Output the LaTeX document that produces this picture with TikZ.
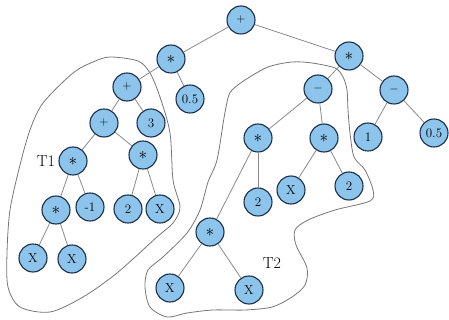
\documentclass[tikz,border=0pt]{standalone}
\usetikzlibrary{positioning}
\definecolor{nodeblue}{HTML}{8DC4EC}
\definecolor{nodeedge}{HTML}{1B2F4A}
\definecolor{linkgray}{HTML}{8A8A8A}
\definecolor{blobgray}{HTML}{767676}
\newcommand{\mulsym}{{\fontsize{17}{17}\selectfont$\ast$}}

\begin{document}
\begin{tikzpicture}[
    x=1pt, y=-1pt,
    op/.style={circle, draw=nodeedge, fill=nodeblue, line width=1.1pt,
               minimum size=28pt, inner sep=0pt, font=\fontsize{13}{15}\selectfont},
    link/.style={draw=linkgray, line width=0.8pt},
    blob/.style={draw=blobgray, line width=0.8pt},
    tag/.style={font=\fontsize{16}{18}\selectfont}
  ]
    \useasboundingbox (0,0) rectangle (449,320);

    % subtree outlines
    \draw[blob] plot[smooth cycle, tension=0.5] coordinates {
        (110,57) (138,61) (150,73) (160,97) (170,133) (173,180) (180,207)
        (173,223) (157,237) (117,273) (83,297) (50,312) (20,307) (8,287)
        (7,253) (10,210) (20,165) (30,130) (43,103) (73,73) (93,62)};
    \draw[blob] plot[smooth cycle, tension=0.5] coordinates {
        (228,98) (232,90) (245,80) (268,67) (292,62) (312,63) (335,68)
        (343,77) (347,90) (348,110) (350,133) (354,157) (365,170) (373,190)
        (370,201) (335,210) (308,220) (295,230) (296,245) (307,268) (305,285)
        (292,297) (272,307) (245,310) (213,310) (187,313) (167,317) (150,307)
        (145,287) (148,270) (163,257) (187,233) (200,210) (208,182) (217,160)
        (224,118)};

    % operator and leaf nodes
    \node[op] (root)  at (241,20)  {$+$};
    \node[op] (mulL)  at (171,59)  {\mulsym};
    \node[op] (halfL) at (190,99)  {0.5};
    \node[op] (addA)  at (127,87)  {$+$};
    \node[op] (three) at (151,123) {3};
    \node[op] (addB)  at (104,123) {$+$};
    \node[op] (mulB)  at (143,155) {\mulsym};
    \node[op] (mulT)  at (73,161)  {\mulsym};
    \node[op] (mulX)  at (56,210)  {\mulsym};
    \node[op] (neg)   at (90,207)  {-1};
    \node[op] (twoA)  at (128,209) {2};
    \node[op] (xA)    at (160,209) {X};
    \node[op] (xB)    at (33,258)  {X};
    \node[op] (xC)    at (72,259)  {X};

    \node[op] (mulR)  at (349,56)  {\mulsym};
    \node[op] (subA)  at (318,89)  {$-$};
    \node[op] (subB)  at (394,90)  {$-$};
    \node[op] (mulC)  at (258,138) {\mulsym};
    \node[op] (mulD)  at (324,138) {\mulsym};
    \node[op] (one)   at (368,137) {1};
    \node[op] (halfR) at (434,133) {0.5};
    \node[op] (twoB)  at (258,202) {2};
    \node[op] (xD)    at (291,190) {X};
    \node[op] (twoC)  at (349,186) {2};
    \node[op] (mulE)  at (210,232) {\mulsym};
    \node[op] (xE)    at (170,288) {X};
    \node[op] (xF)    at (249,290) {X};

    \node[tag, left=0pt of mulT] (lblT1) {T1};
    \node[tag] (lblT2) at (272,263) {T2};

    % tree edges
    \draw[link] (root) -- (mulL);
    \draw[link] (root) -- (mulR);
    \draw[link] (mulL) -- (addA);
    \draw[link] (mulL) -- (halfL);
    \draw[link] (addA) -- (addB);
    \draw[link] (addA) -- (three);
    \draw[link] (addB) -- (mulT);
    \draw[link] (addB) -- (mulB);
    \draw[link] (mulT) -- (mulX);
    \draw[link] (mulT) -- (neg);
    \draw[link] (mulB) -- (twoA);
    \draw[link] (mulB) -- (xA);
    \draw[link] (mulX) -- (xB);
    \draw[link] (mulX) -- (xC);
    \draw[link] (mulR) -- (subA);
    \draw[link] (mulR) -- (subB);
    \draw[link] (subA) -- (mulC);
    \draw[link] (subA) -- (mulD);
    \draw[link] (subB) -- (one);
    \draw[link] (subB) -- (halfR);
    \draw[link] (mulC) -- (mulE);
    \draw[link] (mulC) -- (twoB);
    \draw[link] (mulD) -- (xD);
    \draw[link] (mulD) -- (twoC);
    \draw[link] (mulE) -- (xE);
    \draw[link] (mulE) -- (xF);
  \end{tikzpicture}
\end{document}
